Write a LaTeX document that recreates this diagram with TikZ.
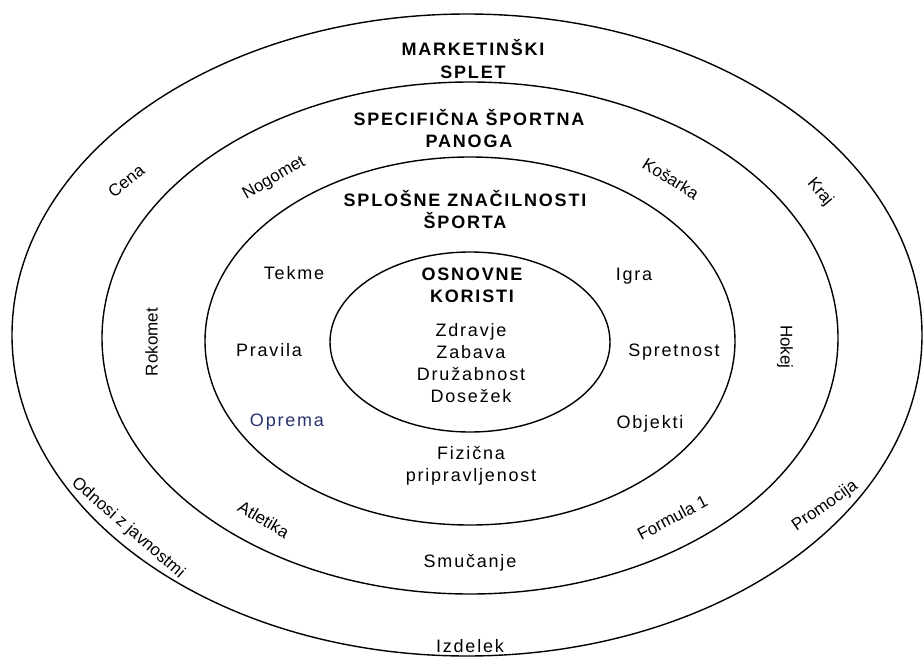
\documentclass[tikz,border=0pt]{standalone}
\usepackage{fontspec}
\setmainfont{Liberation Sans}
\newfontfamily\spaced{Liberation Sans}[LetterSpace=10]
\definecolor{navy}{RGB}{40,52,110}
\tikzset{
  ring/.style={draw=black, line width=1.4pt},
  title/.style={font=\spaced\bfseries\fontsize{18}{22.5}\selectfont, align=center, inner sep=0pt},
  item/.style={font=\spaced\fontsize{18}{22}\selectfont, align=center, inner sep=0pt},
  rotlbl/.style={font=\fontsize{17}{20}\selectfont, inner sep=0pt, text height=12.5pt, text depth=3.5pt}
}
\begin{document}
\begin{tikzpicture}[x=1pt,y=-1pt]
\useasboundingbox[fill=white] (0,0) rectangle (924,664);
% rings
\draw[ring] (467,335) ellipse [x radius=455pt, y radius=321pt];
\draw[ring] (470,338) ellipse [x radius=368pt, y radius=256pt];
\draw[ring] (470,341) ellipse [x radius=265pt, y radius=184pt];
\draw[ring] (470,342) ellipse [x radius=140pt, y radius=90pt];
% titles
\node[title] (t1) at (473,59) {MARKETINŠKI\\SPLET};
\node[title] (t2) at (469,128.5) {SPECIFIČNA ŠPORTNA\\PANOGA};
\node[title] (t3) at (465,209.5) {SPLOŠNE ZNAČILNOSTI\\ŠPORTA};
\node[title] (t4) at (472,285.5) {OSNOVNE\\KORISTI};
% core benefits
\node[item] (core) at (471,363) {Zdravje\\Zabava\\Družabnost\\Dosežek};
% general characteristics
\node[item] (tekme) at (294,273) {Tekme};
\node[item] (igra) at (634,276) {Igra};
\node[item] (pravila) at (269,350) {Pravila};
\node[item] (spretnost) at (674,352) {Spretnost};
\node[item, text=navy] (oprema) at (287,422) {Oprema};
\node[item] (objekti) at (650,424) {Objekti};
\node[item] (fiz) at (471,465.5) {Fizična\\pripravljenost};
% specific sports
\node[rotlbl, rotate=30] (nogomet) at (274,178) {Nogomet};
\node[rotlbl, rotate=-32] (kosarka) at (670,180) {Košarka};
\node[rotlbl, rotate=90] (rokomet) at (153,342) {Rokomet};
\node[rotlbl, rotate=-90] (hokej) at (785,347) {Hokej};
\node[rotlbl, rotate=-30] (atletika) at (263,521) {Atletika};
\node[rotlbl, rotate=28] (formula) at (673,519) {Formula 1};
\node[item] (smucanje) at (470,563) {Smučanje};
% marketing mix
\node[rotlbl, rotate=38] (cena) at (127,182) {Cena};
\node[rotlbl, rotate=-50] (kraj) at (820,192) {Kraj};
\node[rotlbl, rotate=-41] (odnosi) at (128,528) {Odnosi z javnostmi};
\node[rotlbl, rotate=35] (promocija) at (825,506) {Promocija};
\node[item] (izdelek) at (470,646) {Izdelek};
\end{tikzpicture}
\end{document}
